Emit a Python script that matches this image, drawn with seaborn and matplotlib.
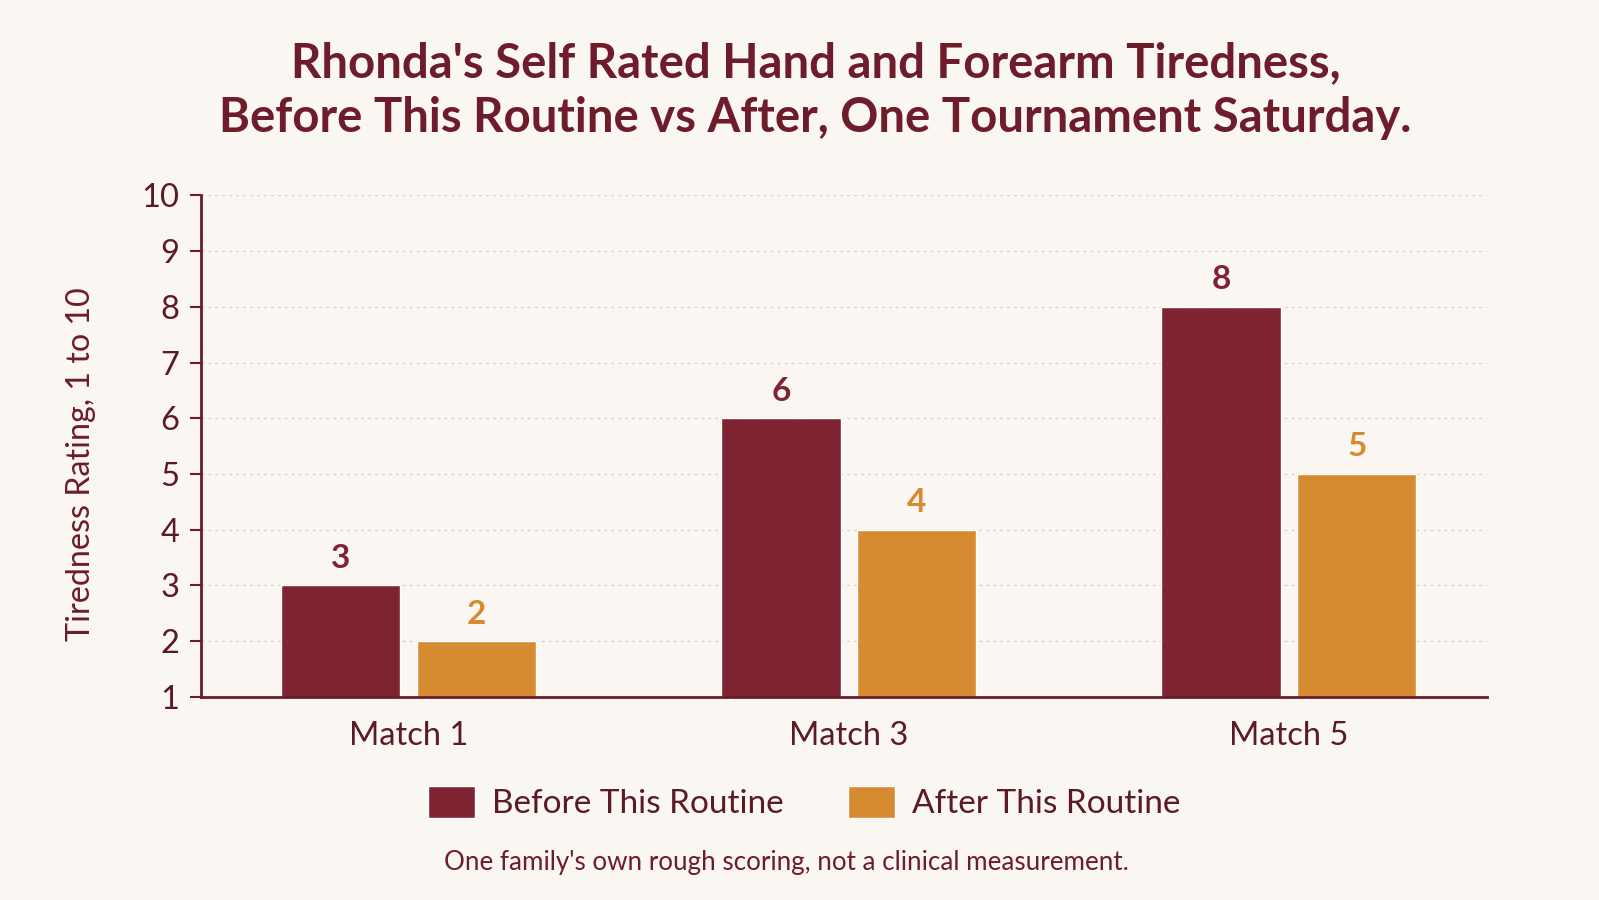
import matplotlib
matplotlib.use("Agg")
import matplotlib.pyplot as plt
import seaborn as sns
import pandas as pd

matches = ["Match 1", "Match 3", "Match 5"]
before_vals = [3, 6, 8]
after_vals = [2, 4, 5]
series_names = ["Before This Routine", "After This Routine"]
y_ticks = [1, 2, 3, 4, 5, 6, 7, 8, 9, 10]

BG = "#FAF6F2"
MAROON = "#7E2433"
ORANGE = "#D68B31"
TEXT = "#6E1B2A"
DARK = "#5A1A26"

df = pd.DataFrame({
    "match": matches * 2,
    "series": [series_names[0]] * len(matches) + [series_names[1]] * len(matches),
    "value": before_vals + after_vals,
})

sns.set_theme(style="white")
plt.rcParams["font.family"] = ["Lato", "DejaVu Sans"]

fig = plt.figure(figsize=(15.99, 9.0), dpi=100, facecolor=BG)
ax = fig.add_axes([0.126, 0.2256, 0.804, 0.5574])
ax.set_facecolor(BG)

sns.barplot(data=df, x="match", y="value", hue="series", order=matches,
            hue_order=series_names, palette=[MAROON, ORANGE],
            width=0.616, gap=0.12, saturation=1, ax=ax, legend=True)

ax.set_ylim(1, 10)
ax.set_xlim(-0.47, 2.45)
ax.set_yticks(y_ticks)
ax.yaxis.grid(True, linestyle=(0, (2, 3)), color="#D8D2CC", linewidth=1)
ax.set_axisbelow(True)
for s in ["top", "right"]:
    ax.spines[s].set_visible(False)
for s in ["left", "bottom"]:
    ax.spines[s].set_color(TEXT)
    ax.spines[s].set_linewidth(2)
ax.tick_params(axis="y", length=8, width=1.5, color=TEXT, labelsize=23.5,
               labelcolor=DARK, pad=8, left=True)
ax.tick_params(axis="x", length=0, labelsize=23.5, labelcolor=DARK, pad=17)
ax.set_xlabel("")
ax.set_ylabel("Tiredness Rating, 1 to 10", fontsize=23.2, color=TEXT)
ax.yaxis.set_label_coords(-0.082, 0.464)

colors = [MAROON, ORANGE]
for cont, col in zip(ax.containers, colors):
    labels = [f"{v:g}" for v in cont.datavalues]
    ax.bar_label(cont, labels=labels, padding=9, fontsize=24,
                 fontweight="bold", color=col)

handles, labs = ax.get_legend_handles_labels()
ax.get_legend().remove()
fig.legend(handles, labs, loc="center", bbox_to_anchor=(0.503, 0.108),
           ncol=2, frameon=False, fontsize=24, labelcolor=DARK,
           handlelength=1.4, handleheight=1.1, columnspacing=1.95,
           handletextpad=0.5)

fig.text(0.51, 0.899, "Rhonda's Self Rated Hand and Forearm Tiredness,\n"
         "Before This Routine vs After, One Tournament Saturday.",
         ha="center", va="center", fontsize=34, fontweight="bold",
         color=TEXT, linespacing=1.3)
fig.text(0.492, 0.042, "One family's own rough scoring, not a clinical measurement.",
         ha="center", va="center", fontsize=18.7, color=TEXT)

fig.savefig("out.png", dpi=100, facecolor=BG)
